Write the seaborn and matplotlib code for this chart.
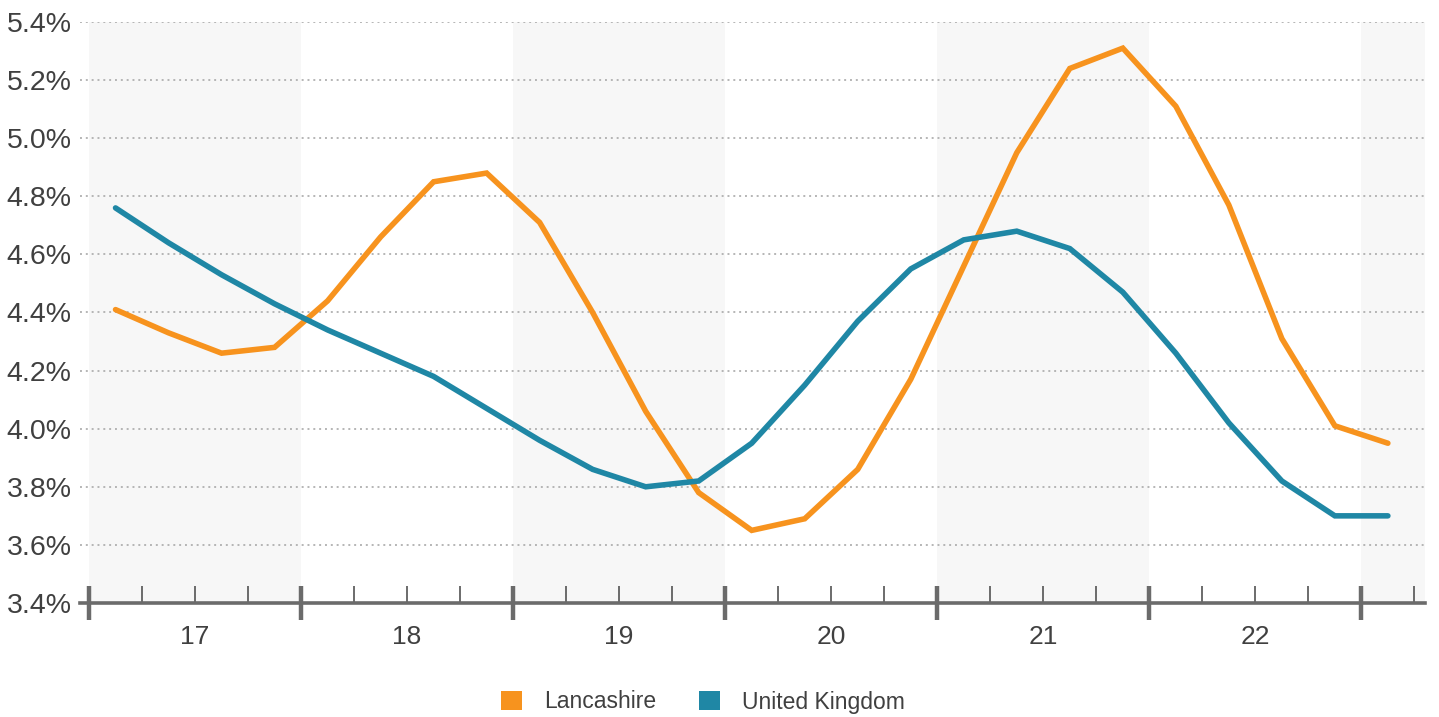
import numpy as np
import pandas as pd
import matplotlib
matplotlib.use("Agg")
import matplotlib.pyplot as plt
from matplotlib.patches import Patch
import seaborn as sns

# Quarterly unemployment rate (%), first quarter shown is Q3 2016/17
years = ["17", "18", "19", "20", "21", "22"]
lancashire = [4.41, 4.33, 4.26, 4.28, 4.44, 4.66, 4.85, 4.88, 4.71, 4.40,
              4.06, 3.78, 3.65, 3.69, 3.86, 4.17, 4.56, 4.95, 5.24, 5.31,
              5.11, 4.77, 4.31, 4.01, 3.95]
united_kingdom = [4.76, 4.64, 4.53, 4.43, 4.34, 4.26, 4.18, 4.07, 3.96, 3.86,
                  3.80, 3.82, 3.95, 4.15, 4.37, 4.55, 4.65, 4.68, 4.62, 4.47,
                  4.26, 4.02, 3.82, 3.70, 3.70]
series_names = ["Lancashire", "United Kingdom"]
colors = ["#F7931E", "#1F87A5"]

n = len(lancashire)
quarter_pos = np.arange(n) + 0.5
df = pd.DataFrame({
    "pos": np.concatenate([quarter_pos, quarter_pos]),
    "rate": lancashire + united_kingdom,
    "area": [series_names[0]] * n + [series_names[1]] * n,
})

sns.set_theme(style="white")
plt.rcParams["font.family"] = ["Liberation Sans", "DejaVu Sans"]

fig = plt.figure(figsize=(14.39, 7.17), dpi=100)
ax = fig.add_axes([80 / 1439, 114 / 717, (1425 - 80) / 1439, (695 - 114) / 717])

x_min, x_max = -0.17, 25.2
ax.set_xlim(x_min, x_max)
ax.set_ylim(3.4, 5.4)

# alternating year bands
for i in range(0, 7, 2):
    ax.axvspan(i * 4, min(i * 4 + 4, x_max), color="#F7F7F7", zorder=0, lw=0)

# dotted horizontal grid
yticks = np.round(np.arange(3.4, 5.41, 0.2), 1)
for y in yticks[1:]:
    ax.axhline(y, color="#B5B5B5", lw=1.4, ls=(0, (1, 2)), zorder=1)

sns.lineplot(data=df, x="pos", y="rate", hue="area", palette=colors,
             hue_order=series_names, lw=4.0, ax=ax, legend=False, zorder=3,
             solid_joinstyle="miter")

for side in ["top", "right", "left"]:
    ax.spines[side].set_visible(False)
ax.spines["bottom"].set_color("#6B6B6B")
ax.spines["bottom"].set_linewidth(2.6)
ax.spines["bottom"].set_zorder(4)

ax.set_yticks(yticks)
ax.set_yticklabels([f"{v:.1f}%" for v in yticks], fontsize=20.5, color="#404040")
ax.tick_params(axis="y", length=0, pad=6)

# year boundaries as major ticks, quarters as minor ticks
ax.set_xticks(np.arange(0, 25, 4))
ax.set_xticklabels([])
ax.set_xticks([q for q in range(0, 26) if q % 4 != 0 and q <= x_max], minor=True)
ax.tick_params(axis="x", which="major", direction="inout", length=24, width=3.2,
               color="#6B6B6B", bottom=True)
ax.tick_params(axis="x", which="minor", direction="in", length=12, width=1.4,
               color="#6B6B6B", bottom=True)

sec = ax.secondary_xaxis("bottom")
sec.set_xticks(np.arange(len(years)) * 4 + 2)
sec.set_xticklabels(years, fontsize=19, color="#404040")
sec.tick_params(length=0, pad=16)
sec.spines["bottom"].set_visible(False)

ax.set_xlabel("")
ax.set_ylabel("")

handles = [Patch(facecolor=c, edgecolor="none") for c in colors]
fig.legend(handles, series_names, loc="center", bbox_to_anchor=(703 / 1439, 1 - 702 / 717),
           ncol=2, frameon=False, fontsize=16.5, handlelength=0.9, handleheight=0.9,
           handletextpad=0.95, columnspacing=1.9, labelcolor="#404040")

fig.savefig("out.png", dpi=100)
